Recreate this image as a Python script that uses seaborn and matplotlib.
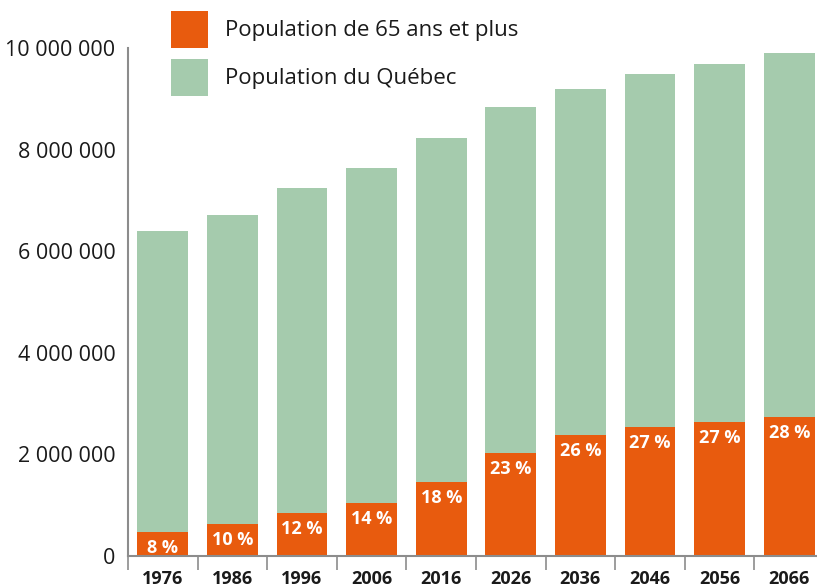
import numpy as np
import pandas as pd
import matplotlib
matplotlib.use("Agg")
import matplotlib.pyplot as plt
import matplotlib.ticker as mticker
from matplotlib.patches import Patch
import seaborn as sns

# Data
years = ['1976', '1986', '1996', '2006', '2016', '2026', '2036', '2046', '2056', '2066']
pop_total = [6.39e6, 6.71e6, 7.24e6, 7.64e6, 8.23e6, 8.84e6, 9.19e6, 9.49e6, 9.69e6, 9.90e6]
pop_65 = [0.48e6, 0.63e6, 0.85e6, 1.05e6, 1.46e6, 2.03e6, 2.38e6, 2.54e6, 2.64e6, 2.74e6]
pct_labels = ['8 %', '10 %', '12 %', '14 %', '18 %', '23 %', '26 %', '27 %', '27 %', '28 %']

green = '#a5cbad'
orange = '#e85b0e'
grey = '#8c8c8c'
ink = '#1a1a1a'

sns.set_style('white')
plt.rcParams['font.family'] = ['Open Sans', 'DejaVu Sans']

df = pd.DataFrame({'year': years, 'total': pop_total, 'senior': pop_65})

fig = plt.figure(figsize=(8.17, 5.88), dpi=100)
ax = fig.add_axes([128 / 817, 32 / 588, 696 / 817, 508 / 588])

sns.barplot(data=df, x='year', y='total', color=green, width=0.73, ax=ax,
            saturation=1, edgecolor='none')
sns.barplot(data=df, x='year', y='senior', color=orange, width=0.73, ax=ax,
            saturation=1, edgecolor='none')

# percentage labels inside the orange bars
for i, lab in enumerate(pct_labels):
    ax.annotate(lab, (i, pop_65[i]), xytext=(0, -5), textcoords='offset points',
                ha='center', va='top', color='white', fontsize=13, fontweight='bold')

ax.set_xlim(-0.5, 9.5)
ax.set_ylim(0, 10e6)
ax.set_xlabel('')
ax.set_ylabel('')

ax.yaxis.set_major_locator(mticker.MultipleLocator(2e6))
ax.yaxis.set_major_formatter(mticker.FuncFormatter(lambda v, p: f'{int(v):,}'.replace(',', ' ')))
ax.tick_params(axis='y', length=6, width=1.2, color=grey, labelsize=15.5, labelcolor=ink, pad=3)

ax.set_xticks(range(len(years)))
ax.set_xticklabels(years, fontweight='bold')
ax.set_xticks(np.arange(-0.5, len(years), 1), minor=True)
ax.tick_params(axis='x', which='major', length=0, labelsize=13, labelcolor=ink, pad=10)
ax.tick_params(axis='x', which='minor', length=10, width=1.2, color=grey, bottom=True)

for side in ['top', 'right']:
    ax.spines[side].set_visible(False)
for side in ['left', 'bottom']:
    ax.spines[side].set_color(grey)
    ax.spines[side].set_linewidth(1.5)

handles = [Patch(facecolor=orange, edgecolor='none'), Patch(facecolor=green, edgecolor='none')]
fig.legend(handles, ['Population de 65 ans et plus', 'Population du Québec'],
           loc='upper left', bbox_to_anchor=(155 / 817, 1 + 5 / 588), frameon=False,
           fontsize=16, handlelength=1.7, handleheight=2.2, handletextpad=0.75,
           labelspacing=0.5, borderpad=0.2, labelcolor=ink)

fig.savefig('out.png', dpi=100)
